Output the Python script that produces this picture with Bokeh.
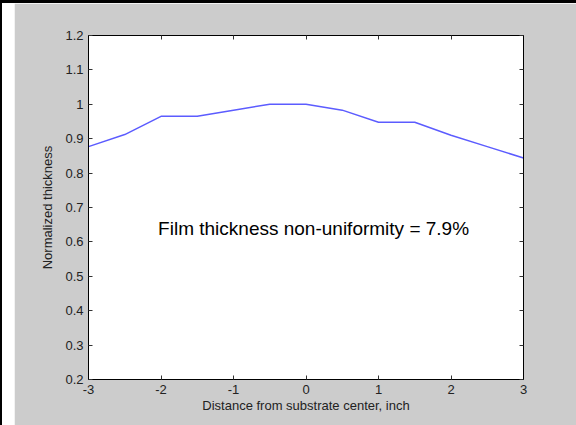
from bokeh.plotting import figure
from bokeh.models import (LinearAxis, FixedTicker, CustomJSTickFormatter, Label, Div)
from bokeh.layouts import column, row
from bokeh.embed import file_html
from bokeh.resources import INLINE

distance = [-3, -2.5, -2, -1.5, -1, -0.5, 0, 0.5, 1, 1.5, 2, 2.5, 3]
thickness = [0.877, 0.912, 0.965, 0.965, 0.983, 1.0, 1.0, 0.983, 0.948, 0.948, 0.910, 0.877, 0.844]
x_ticks = [-3, -2, -1, 0, 1, 2, 3]
y_ticks = [0.2, 0.3, 0.4, 0.5, 0.6, 0.7, 0.8, 0.9, 1.0, 1.1, 1.2]
note = "Film thickness non-uniformity = 7.9%"

GRAY = "#cccccc"
FONT = "Liberation Sans"

p = figure(width=562, height=422, output_backend="svg", toolbar_location=None,
           x_range=(-3, 3), y_range=(0.2, 1.2),
           min_border_left=74, min_border_right=53, min_border_top=32, min_border_bottom=46)
p.margin = 0
p.border_fill_color = GRAY
p.background_fill_color = "white"
p.outline_line_color = "black"
p.outline_line_width = 1
p.xgrid.visible = False
p.ygrid.visible = False

p.line(distance, thickness, line_color="#5c5cff", line_width=1.5)

fmt = CustomJSTickFormatter(code="return String(Math.round(tick*10)/10);")

def style_axis(ax, ticks, show_labels=True):
    ax.ticker = FixedTicker(ticks=ticks)
    ax.formatter = fmt
    ax.major_tick_in = 4
    ax.major_tick_out = 0
    ax.minor_tick_in = 0
    ax.minor_tick_out = 0
    ax.axis_line_color = "black"
    ax.major_tick_line_color = "#333333"
    ax.major_label_text_font = FONT
    ax.major_label_text_font_size = "13px"
    ax.major_label_text_color = "#222222" if show_labels else None
    ax.axis_label_text_font = FONT
    ax.axis_label_text_font_size = "13px"
    ax.axis_label_text_font_style = "normal"
    ax.axis_label_text_color = "#222222"

style_axis(p.xaxis[0], x_ticks)
style_axis(p.yaxis[0], y_ticks)
p.xaxis[0].axis_label = "Distance from substrate center, inch"
p.yaxis[0].axis_label = "Normalized thickness"
p.xaxis[0].major_label_standoff = 5
p.xaxis[0].axis_label_standoff = 1
p.yaxis[0].major_label_standoff = 5
p.yaxis[0].axis_label_standoff = 7

top_ax = LinearAxis()
right_ax = LinearAxis()
style_axis(top_ax, x_ticks, show_labels=False)
style_axis(right_ax, y_ticks, show_labels=False)
top_ax.major_label_text_font_size = "1px"
right_ax.major_label_text_font_size = "1px"
p.add_layout(top_ax, "above")
p.add_layout(right_ax, "right")

p.add_layout(Label(x=-2.04, y=0.64, text=note, text_font=FONT, text_font_size="19px",
                   text_color="black", text_baseline="middle", text_align="left"))

top_bar = Div(width=576, height=3, margin=0, styles={"background-color": "black"})
left_bar = Div(width=14, height=422, margin=0, styles={"background-color": "white",
                                                        "border-left": "2px solid black",
                                                        "box-sizing": "border-box"})
inner = row(left_bar, p, spacing=0, margin=0)
layout = column(top_bar, inner, spacing=0, margin=0)

open("out.html", "w").write(file_html(layout, INLINE))
